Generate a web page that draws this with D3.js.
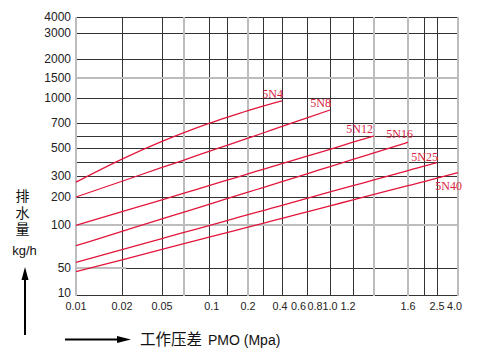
<!DOCTYPE html>
<html><head><meta charset="utf-8">
<script src="https://cdn.jsdelivr.net/npm/d3@7"></script>
<style>
html,body{margin:0;padding:0;background:#fff;}
svg{display:block;}
</style>
</head><body>
<svg id="chart" width="486" height="354"></svg>
<script>
// ---- data ----
const pressures = [0.01,0.02,0.05,0.07,0.1,0.15,0.2,0.3,0.4,0.6,0.8,1.0,1.2,1.6,2.0,2.5,4.0];
const seriesNames = ["5N4","5N8","5N12","5N16","5N25","5N40"];
const s5N4  = [271,421,555,626,697,768,849,903,966];
const s5N8  = [200,275,361,414,476,522,582,623,674,761,856];
const s5N12 = [99.5,147.5,190,218.6,254,280,315,348,389,442,491,548,600];
const s5N16 = [75.9,92.6,121.8,146,174,194,223,245,273,316,367,419,465,548];
const s5N25 = [56.6,71.4,84.3,91.4,99.4,116,137,151,170,195,224,254,281,339,371,395];
const s5N40 = [44.5,59.5,71.6,78.3,85.8,91.2,97.6,106,124,147,168,190,212,254,273,290,324];
const seriesValues = [s5N4,s5N8,s5N12,s5N16,s5N25,s5N40];

// axis ticks
const yGridVals  = [10,50,100,200,300,400,500,600,700,1000,1500,2000,3000,4000];
const yLabelVals = [10,50,100,200,300,500,700,1000,1500,2000,3000,4000];
const yGreyVals  = [100,1500];
const xGridVals  = pressures;
const xGreyVals  = [0.01,0.07,0.2,1.2,1.6,4.0];
const xLabelText = ["0.01","0.02","0.05","0.1","0.2","0.4","0.6","0.8","1.0","1.2","1.6","2.5","4.0"];
const xLabelAt   = [0.01,0.02,0.05,0.108,0.2,0.39,0.532,0.67,0.8,0.957,1.6,2.5,3.75];

// ---- layout / scales (non-uniform hand-drawn grid -> polylinear scales) ----
const svg = d3.select("#chart");
const x = d3.scaleLinear()
  .domain(xGridVals)
  .range([76,122,162,184,209,227,248,263,282,307,330,353,374,408,424,437,458]);
const y = d3.scaleLinear()
  .domain(yGridVals)
  .range([295,268,225,197,176,162,148,136,123,98,78,59,33,17]);

const x0 = x.range()[0], x1 = x.range()[x.range().length-1];
const yB = y.range()[0], yT = y.range()[y.range().length-1];

// grid - dark lines
const g = svg.append("g");
g.selectAll("line.hy").data(yGridVals.filter(v=>!yGreyVals.includes(v))).enter()
  .append("line").attr("x1",x0).attr("x2",x1)
  .attr("y1",d=>y(d)+0.5).attr("y2",d=>y(d)+0.5)
  .attr("stroke","#333").attr("stroke-width",1);
g.selectAll("line.vx").data(xGridVals.filter(v=>!xGreyVals.includes(v))).enter()
  .append("line").attr("y1",yT).attr("y2",yB)
  .attr("x1",d=>x(d)+0.5).attr("x2",d=>x(d)+0.5)
  .attr("stroke","#333").attr("stroke-width",1);
// grey lines
g.selectAll("line.gy").data(yGreyVals).enter()
  .append("line").attr("x1",x0).attr("x2",x1)
  .attr("y1",d=>y(d)).attr("y2",d=>y(d))
  .attr("stroke","#bdbdbd").attr("stroke-width",2);
g.append("line").attr("x1",x0).attr("x2",x(0.023)).attr("y1",y(50)).attr("y2",y(50))
  .attr("stroke","#bdbdbd").attr("stroke-width",2);
g.selectAll("line.gx").data(xGreyVals).enter()
  .append("line").attr("y1",yT).attr("y2",yB+1)
  .attr("x1",d=>x(d)).attr("x2",d=>x(d))
  .attr("stroke","#bdbdbd").attr("stroke-width",2);

// y labels
svg.selectAll("text.yl").data(yLabelVals).enter().append("text")
  .attr("x",71).attr("y",d=>d===10 ? y(d)-2 : y(d)).attr("dy","0.35em")
  .attr("text-anchor","end")
  .attr("font-family","Liberation Sans, Arial, sans-serif").attr("font-size",12)
  .attr("fill","#222").text(d=>d);

// x labels
svg.selectAll("text.xl").data(xLabelText).enter().append("text")
  .attr("x",(d,i)=>x(xLabelAt[i])).attr("y",309.5)
  .attr("text-anchor","middle")
  .attr("font-family","Liberation Sans, Arial, sans-serif").attr("font-size",10.8)
  .attr("fill","#222").text(d=>d);

// curves
const red = "#e2163c";
const line = d3.line().x(d=>x(d[0])).y(d=>y(d[1])).curve(d3.curveMonotoneX);
const labelPlace = [
  {dx:1,dy:-3},{dx:1,dy:-3},{dx:-1,dy:-3},{dx:5,dy:-4},{dx:1,dy:-2},{dx:4,dy:17}
];
seriesNames.forEach((name,i)=>{
  const pts = seriesValues[i].map((v,j)=>[pressures[j],v]);
  svg.append("path").attr("d",line(pts)).attr("fill","none")
    .attr("stroke",red).attr("stroke-width",1.3);
  const last = pts[pts.length-1];
  svg.append("text").attr("x",x(last[0])+labelPlace[i].dx).attr("y",y(last[1])+labelPlace[i].dy)
    .attr("text-anchor","end")
    .attr("font-family","Liberation Serif, Times New Roman, serif").attr("font-size",12)
    .attr("fill","#d9243f").text(name);
});

// left axis title
const lt = svg.append("g");
lt.append("text").attr("x",22.5).attr("y",189)
  .style("writing-mode","vertical-rl")
  .attr("letter-spacing",2.5)
  .attr("font-family","Noto Sans CJK SC, sans-serif").attr("font-size",14)
  .attr("fill","#111").text("排水量");
lt.append("text").attr("x",24.5).attr("y",255).attr("text-anchor","middle")
  .attr("font-family","Liberation Sans, Arial, sans-serif").attr("font-size",13)
  .attr("fill","#111").text("kg/h");
// up arrow
lt.append("line").attr("x1",25).attr("x2",25).attr("y1",335).attr("y2",276)
  .attr("stroke","#000").attr("stroke-width",2);
lt.append("path").attr("d","M25,267 L21.5,280 L28.5,280 Z").attr("fill","#000");

// bottom axis title
const bt = svg.append("g");
bt.append("line").attr("x1",65).attr("x2",120).attr("y1",339.5).attr("y2",339.5)
  .attr("stroke","#000").attr("stroke-width",2);
bt.append("path").attr("d","M131,339.5 L117,336 L117,343 Z").attr("fill","#000");
const tt = bt.append("text").attr("x",140).attr("y",345).attr("fill","#111");
tt.append("tspan").attr("font-family","Noto Sans CJK SC, sans-serif").attr("font-size",15.5).text("工作压差");
tt.append("tspan").attr("font-family","Liberation Sans, Arial, sans-serif").attr("font-size",14)
  .attr("dx",6).text("PMO (Mpa)");
</script>
</body></html>
